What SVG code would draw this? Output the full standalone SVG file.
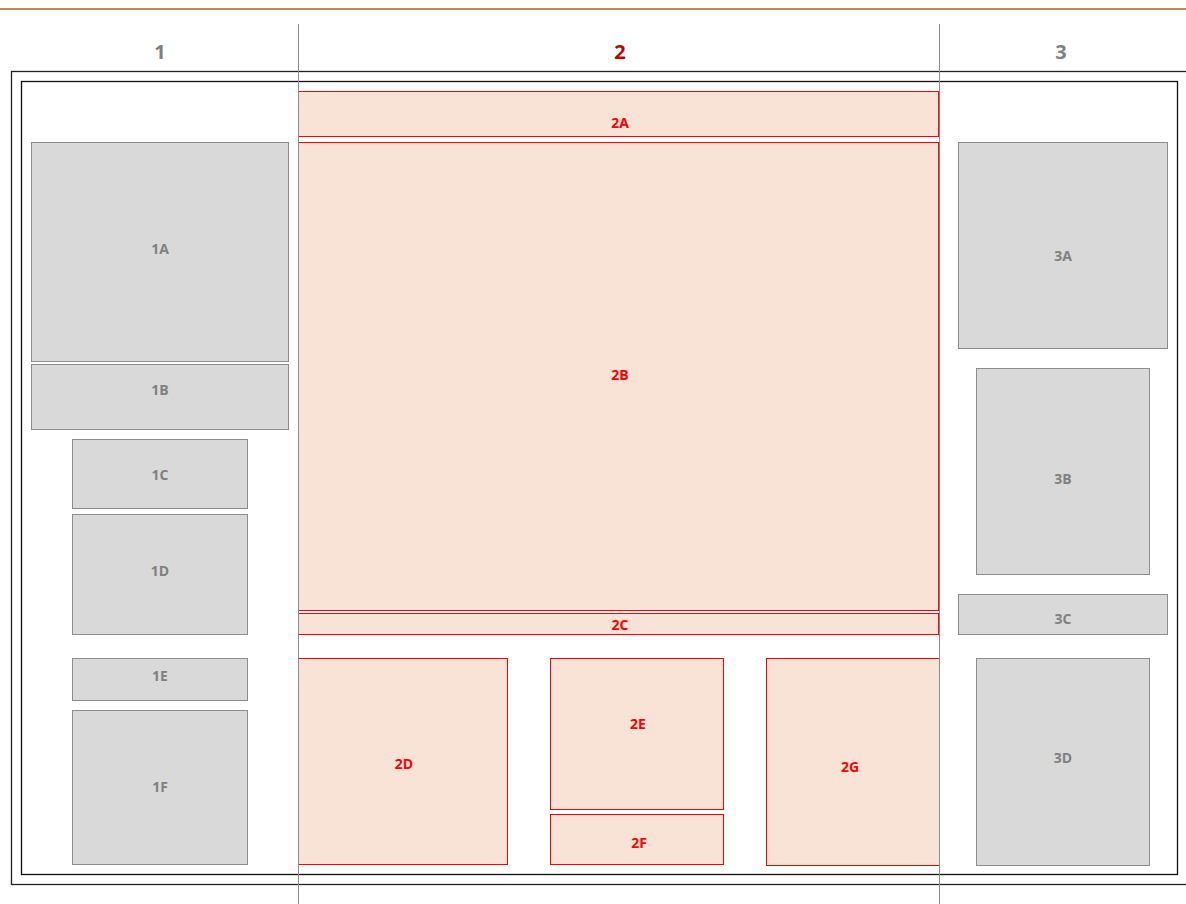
<svg xmlns="http://www.w3.org/2000/svg" width="1186" height="904" viewBox="0 0 1186 904">
<style>
.g{fill:#d9d9d9;stroke:#8c8c8c;stroke-width:1}
.r{fill:#f9e3d7;stroke:#ff0000;stroke-width:1}
.gt{fill:#808080;font-family:"Open Sans","Liberation Sans",sans-serif;font-weight:bold;font-size:14px;text-anchor:middle;dominant-baseline:central}
.rt{fill:#ff0000;font-family:"Open Sans","Liberation Sans",sans-serif;font-weight:bold;font-size:14px;text-anchor:middle;dominant-baseline:central}
.h{font-family:"Open Sans","Liberation Sans",sans-serif;font-weight:bold;font-size:20px;text-anchor:middle;dominant-baseline:central}
</style>
<rect width="1186" height="904" fill="#ffffff"/>
<line x1="0" y1="9" x2="1186" y2="9" stroke="#b98a63" stroke-width="2"/>
<g id="frame">
<rect x="11.5" y="71.5" width="1190" height="813" fill="none" stroke="#222" stroke-width="1.3"/>
<rect x="21.5" y="81.5" width="1156" height="793" fill="none" stroke="#111" stroke-width="1.3"/>
</g>
<g id="headers">
<text class="h" x="160" y="51" fill="#808080">1</text>
<text class="h" x="620" y="51" fill="#c00000">2</text>
<text class="h" x="1061" y="51" fill="#808080">3</text>
</g>
<g id="n1A"><rect class="g" x="31.5" y="142.5" width="257" height="219"/><text class="gt" x="160" y="248">1A</text></g>
<g id="n1B"><rect class="g" x="31.5" y="364.5" width="257" height="65"/><text class="gt" x="160" y="389">1B</text></g>
<g id="n1C"><rect class="g" x="72.5" y="439.5" width="175" height="69"/><text class="gt" x="160" y="474">1C</text></g>
<g id="n1D"><rect class="g" x="72.5" y="514.5" width="175" height="120"/><text class="gt" x="160" y="570">1D</text></g>
<g id="n1E"><rect class="g" x="72.5" y="658.5" width="175" height="42"/><text class="gt" x="160" y="675">1E</text></g>
<g id="n1F"><rect class="g" x="72.5" y="710.5" width="175" height="154"/><text class="gt" x="160" y="786">1F</text></g>
<g id="n2A"><rect class="r" x="298.5" y="91.5" width="640" height="45"/><text class="rt" x="620" y="122">2A</text></g>
<g id="n2B"><rect class="r" x="298.5" y="142.5" width="640" height="468"/><text class="rt" x="620" y="374">2B</text></g>
<g id="n2C"><rect class="r" x="298.5" y="613.5" width="640" height="21"/><text class="rt" x="620" y="624">2C</text></g>
<g id="n2D"><rect class="r" x="298.5" y="658.5" width="209" height="206"/><text class="rt" x="404" y="763">2D</text></g>
<g id="n2E"><rect class="r" x="550.5" y="658.5" width="173" height="151"/><text class="rt" x="638" y="723">2E</text></g>
<g id="n2F"><rect class="r" x="550.5" y="814.5" width="173" height="50"/><text class="rt" x="639" y="842">2F</text></g>
<g id="n2G"><rect class="r" x="766.5" y="658.5" width="173" height="207"/><text class="rt" x="850" y="766">2G</text></g>
<g id="n3A"><rect class="g" x="958.5" y="142.5" width="209" height="206"/><text class="gt" x="1063" y="255">3A</text></g>
<g id="n3B"><rect class="g" x="976.5" y="368.5" width="173" height="206"/><text class="gt" x="1063" y="478">3B</text></g>
<g id="n3C"><rect class="g" x="958.5" y="594.5" width="209" height="40"/><text class="gt" x="1063" y="618">3C</text></g>
<g id="n3D"><rect class="g" x="976.5" y="658.5" width="173" height="207"/><text class="gt" x="1063" y="757">3D</text></g>
<g id="connectors">
<line x1="298.5" y1="24" x2="298.5" y2="904" stroke="#8c8c8c" stroke-width="1"/>
<line x1="939.5" y1="24" x2="939.5" y2="904" stroke="#8c8c8c" stroke-width="1"/>
</g>
</svg>
